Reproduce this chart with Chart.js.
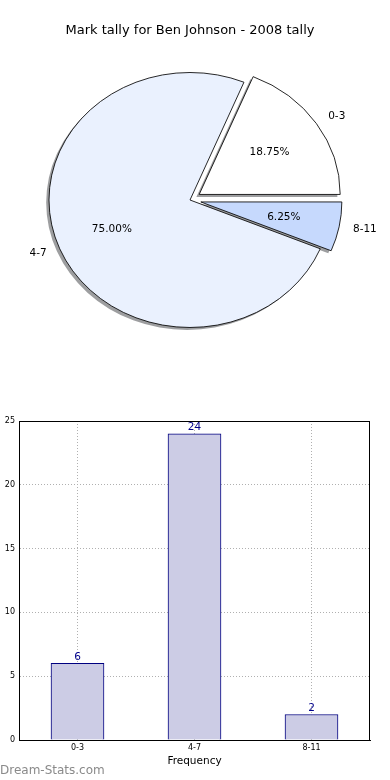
<!DOCTYPE html>
<html>
<head>
<meta charset="utf-8">
<script src="https://cdn.jsdelivr.net/npm/chart.js@4.4.1/dist/chart.umd.min.js"></script>
<style>
  html, body { margin: 0; padding: 0; background: #fff; }
  #wrap { position: relative; width: 390px; height: 780px; overflow: hidden; }
  canvas { position: absolute; left: 0; }
  #pieChart { top: 0; }
  #barChart { top: 400px; }
</style>
</head>
<body>
<div id="wrap">
  <canvas id="pieChart" width="390" height="400"></canvas>
  <canvas id="barChart" width="390" height="380"></canvas>
</div>
<script>
// Chart data
const categories = ['0-3', '4-7', '8-11'];
const counts = [6, 24, 2];
const yTicks = [0, 5, 10, 15, 20, 25];

// Pie look
const pieColors = ['#ffffff', '#eaf1fe', '#c6d9fd'];
const explode = [10, 0, 10];           // px, along the slice middle
const X_STRETCH = 141 / 127.5;         // pie is drawn as an ellipse
const SHADOW = 'rgba(60, 62, 66, 0.5)';
const FONT = '"DejaVu Sans", "Liberation Sans", sans-serif';

const total = counts.reduce((a, b) => a + b, 0);
// slices run clockwise in Chart.js, so feed them reversed to get the
// counter-clockwise order of the original
const pieOrder = [2, 1, 0];

function stretch(ctx, cx, cy) {
    ctx.translate(cx, cy);
    ctx.scale(X_STRETCH, 1);
    ctx.translate(-cx, -cy);
}

// Draws exploded slices with a drop shadow, squashed into an ellipse
const ellipsePie = {
    id: 'ellipsePie',
    beforeDatasetDraw(chart, args) {
        const ctx = chart.ctx;
        const arcs = args.meta.data;
        if (!arcs.length) return;

        ctx.save();
        stretch(ctx, arcs[0].x, arcs[0].y);

        // shadows first
        arcs.forEach((arc, j) => {
            const i = pieOrder[j];
            const mid = (arc.startAngle + arc.endAngle) / 2;
            const o = arc.options;
            arc.options = Object.assign({}, o, { backgroundColor: SHADOW, borderWidth: 0 });
            ctx.save();
            ctx.translate(Math.cos(mid) * explode[i] - 2.55, Math.sin(mid) * explode[i] + 2.55);
            arc.draw(ctx);
            ctx.restore();
            arc.options = o;
        });

        arcs.forEach((arc, j) => {
            const i = pieOrder[j];
            const mid = (arc.startAngle + arc.endAngle) / 2;
            ctx.save();
            ctx.translate(Math.cos(mid) * explode[i], Math.sin(mid) * explode[i]);
            arc.draw(ctx);
            ctx.restore();
        });

        ctx.restore();
        return false;
    },
    afterDraw(chart) {
        const ctx = chart.ctx;
        const meta = chart.getDatasetMeta(0);
        ctx.save();
        ctx.fillStyle = '#000';
        ctx.font = '10.5px ' + FONT;
        ctx.textBaseline = 'middle';
        meta.data.forEach((arc, j) => {
            const i = pieOrder[j];
            const mid = (arc.startAngle + arc.endAngle) / 2;
            const r = arc.outerRadius;
            const pt = d => [arc.x + Math.cos(mid) * d * X_STRETCH, arc.y + Math.sin(mid) * d];

            const [lx, ly] = pt(explode[i] + r * 1.1);
            ctx.textAlign = Math.cos(mid) > 0 ? 'left' : 'right';
            ctx.fillText(categories[i], lx, ly);

            const [px, py] = pt(explode[i] + r * 0.6);
            ctx.textAlign = 'center';
            ctx.fillText((counts[i] / total * 100).toFixed(2) + '%', px, py);
        });
        ctx.restore();
    }
};

new Chart(document.getElementById('pieChart'), {
    type: 'pie',
    data: {
        labels: pieOrder.map(i => categories[i]),
        datasets: [{
            data: pieOrder.map(i => counts[i]),
            backgroundColor: pieOrder.map(i => pieColors[i]),
            borderColor: '#000',
            borderWidth: 0.8,
            radius: 127.5,
            rotation: 90
        }]
    },
    options: {
        responsive: false,
        animation: false,
        events: [],
        layout: { padding: { left: 0, right: 10, top: 0, bottom: 44.6 } },
        plugins: {
            legend: { display: false },
            tooltip: { enabled: false },
            title: {
                display: true,
                text: 'Mark tally for Ben Johnson - 2008 tally',
                color: '#000',
                font: { family: FONT, size: 13, weight: 'normal' },
                padding: { top: 23, bottom: 6 }
            }
        }
    },
    plugins: [ellipsePie]
});

// Bar chart extras: frame, value labels, watermark
const barExtras = {
    id: 'barExtras',
    afterDraw(chart) {
        const ctx = chart.ctx;
        const a = chart.chartArea;
        ctx.save();
        ctx.strokeStyle = '#000';
        ctx.lineWidth = 1;
        ctx.strokeRect(a.left + 0.5, a.top + 0.5, a.right - a.left - 1, a.bottom - a.top);

        ctx.fillStyle = '#00008b';
        ctx.font = '10.5px ' + FONT;
        ctx.textAlign = 'center';
        ctx.textBaseline = 'bottom';
        chart.getDatasetMeta(0).data.forEach((bar, i) => {
            ctx.fillText(String(counts[i]), bar.x, bar.y - 1);
        });

        ctx.fillStyle = '#8a8a8a';
        ctx.font = '12px ' + FONT;
        ctx.textAlign = 'left';
        ctx.textBaseline = 'middle';
        ctx.fillText('Dream-Stats.com', 0, 371);
        ctx.restore();
    }
};

const gridStyle = { color: '#b0b0b0', lineWidth: 1, drawTicks: false };

new Chart(document.getElementById('barChart'), {
    type: 'bar',
    data: {
        labels: categories,
        datasets: [{
            data: counts,
            backgroundColor: '#ccccE5',
            borderColor: '#000080',
            borderWidth: 1,
            barThickness: 53
        }]
    },
    options: {
        responsive: false,
        animation: false,
        events: [],
        layout: { padding: { left: 0, right: 20, top: 21, bottom: 0 } },
        plugins: {
            legend: { display: false },
            tooltip: { enabled: false }
        },
        scales: {
            x: {
                z: 1,
                grid: Object.assign({ offset: false }, gridStyle),
                border: { display: true, color: '#000', width: 1, dash: [1, 2] },
                ticks: { color: '#000', font: { family: FONT, size: 8 }, padding: 3 },
                title: {
                    display: true,
                    text: 'Frequency',
                    color: '#000',
                    font: { family: FONT, size: 10.5 },
                    padding: { top: 0, bottom: 12.7 }
                },
                afterFit(s) { s.height = 40; }
            },
            y: {
                z: 1,
                min: 0,
                max: 25,
                grid: gridStyle,
                border: { display: true, color: '#000', width: 1, dash: [1, 2] },
                ticks: { color: '#000', font: { family: FONT, size: 8 }, padding: 4 },
                afterBuildTicks(s) { s.ticks = yTicks.map(v => ({ value: v })); },
                afterFit(s) { s.width = 19; }
            }
        }
    },
    plugins: [barExtras]
});
</script>
</body>
</html>
